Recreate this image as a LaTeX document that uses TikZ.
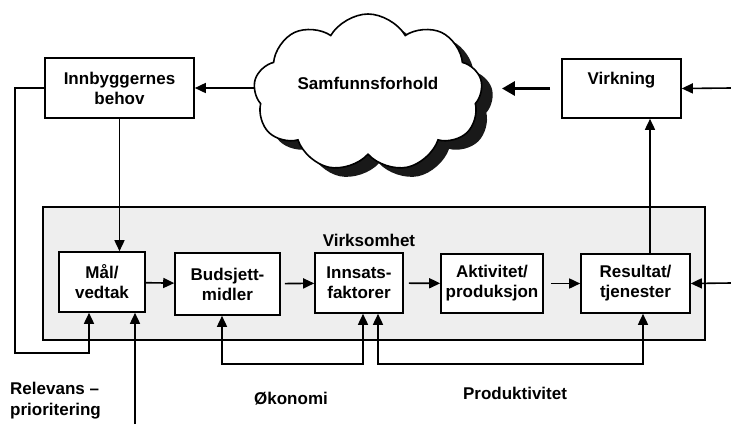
\documentclass[tikz,border=0pt]{standalone}
\usepackage{fontspec}
\setmainfont{Liberation Sans}
\usetikzlibrary{arrows.meta,shapes.symbols,shadows}
\tikzset{
  box/.style={draw, line width=1.6pt, fill=white, align=center, inner sep=2pt,
    font=\bfseries\fontsize{17}{20}\selectfont},
  lbl/.style={font=\bfseries\fontsize{17}{21}\selectfont, align=left, inner sep=0pt},
  arr/.style={line width=1.6pt, -{Triangle[length=11pt,width=10pt]}},
  darr/.style={line width=1.6pt, {Triangle[length=11pt,width=10pt]}-{Triangle[length=11pt,width=10pt]}},
  bigarr/.style={line width=3pt, -{Triangle[length=13pt,width=14pt]}}
}
\begin{document}
\begin{tikzpicture}[x=1pt,y=-1pt]
\useasboundingbox (0,0) rectangle (731,424);
% virksomhet
\node (virks) [draw, line width=1.4pt, fill=gray!13, inner sep=0pt,
  minimum width=662pt, minimum height=133pt] at (374,273.5) {};
\node (virkslbl) [lbl] at (369,240) {Virksomhet};
% top row
\node (cloud) [cloud, cloud puffs=9, cloud puff arc=120, cloud ignores aspect, draw,
  line width=1.6pt, fill=white, minimum width=229pt, minimum height=158pt, align=center,
  drop shadow={shadow xshift=11pt, shadow yshift=-9pt, fill=black!90, opacity=1},
  font=\bfseries\fontsize{17}{20}\selectfont] at (368,93) {Samfunnsforhold\\\mbox{}};
\node (innb) [box, minimum width=149pt, minimum height=60pt] at (119.5,88) {Innbyggernes\\behov};
\node (virk) [box, minimum width=119pt, minimum height=59pt] at (621.5,88.5) {Virkning\\\mbox{}};
% chain
\node (mal) [box, minimum width=86pt, minimum height=60pt] at (102,282) {Mål/\\vedtak};
\node (buds) [box, minimum width=105pt, minimum height=62pt] at (227.5,284) {Budsjett-\\midler};
\node (inns) [box, minimum width=88pt, minimum height=60pt] at (359,283) {Innsats-\\faktorer};
\node (akt) [box, minimum width=102pt, minimum height=59pt] at (492,283.5) {Aktivitet/\\produksjon};
\node (res) [box, minimum width=109pt, minimum height=59pt] at (635.5,283.5) {Resultat/\\tjenester};
% labels
\node (rel) [lbl, anchor=west] at (10,401) {Relevans --\\prioritering};
\node (oko) [lbl] at (291,399) {Økonomi};
\node (prod) [lbl] at (515,393) {Produktivitet};
% free ends
\coordinate (virkin) at (731,88);
\coordinate (resin) at (731,283);
\coordinate (relin) at (135,424);
\coordinate (vres) at ([xshift=14.5pt]res.north);
% connectors
\draw[arr] (cloud.west |- innb.east) -- (innb.east);
\draw[bigarr, shorten <=11pt, shorten >=20pt] (virk.west) -- (cloud.east |- virk.west);
\draw[arr] (virkin) -- (virk.east);
\draw[arr] (vres) -- (vres |- virk.south);
\draw[arr] (innb.south) -- (innb.south |- mal.north);
\draw[arr] (innb.west) -| (15,353) -| ([xshift=-13pt]mal.south);
\draw[arr] (relin) -- (relin |- mal.south);
\draw[arr] (mal) -- (buds);
\draw[arr, shorten <=4pt] (buds) -- (inns);
\draw[arr, shorten <=5pt] (inns) -- (akt);
\draw[arr, shorten <=7pt] (akt) -- (res);
\draw[arr] (resin) -- (res.east);
\draw[darr] ([xshift=-5.5pt]buds.south) -- ++(0,48) -| ([xshift=4pt]inns.south);
\draw[darr] ([xshift=19pt]inns.south) -- ++(0,50) -| ([xshift=7.5pt]res.south);
\end{tikzpicture}
\end{document}
